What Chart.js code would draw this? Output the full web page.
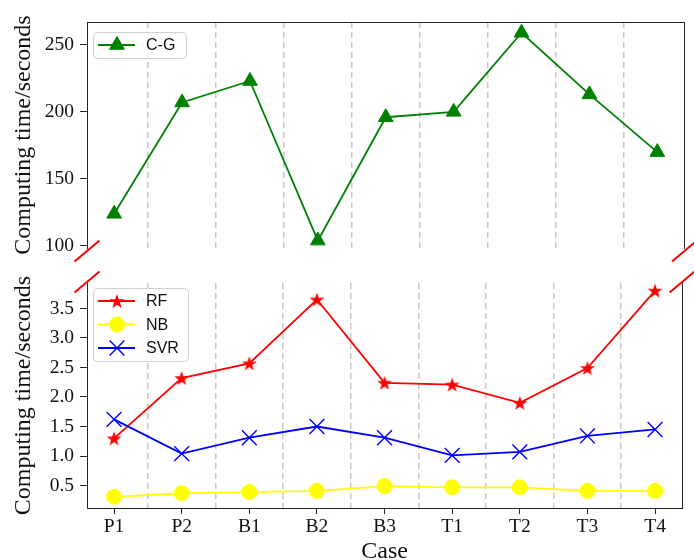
<!DOCTYPE html>
<html>
<head>
<meta charset="utf-8">
<script src="https://cdn.jsdelivr.net/npm/chart.js"></script>
<style>
	body { margin: 0; background: #fff; }
	#wrap { position: relative; width: 694px; height: 560px; }
	#wrap canvas { position: absolute; left: 0; top: 0; }
</style>
</head>
<body>
<div id="wrap">
	<canvas id="topChart" width="694" height="560"></canvas>
	<canvas id="bottomChart" width="694" height="560"></canvas>
</div>

<script>
	// --- data ---
	var cases = ['P1', 'P2', 'B1', 'B2', 'B3', 'T1', 'T2', 'T3', 'T4'];
	var cgTime = [124, 207, 223, 104, 196, 200, 259, 213, 170];
	var rfTime = [1.30, 2.32, 2.57, 3.65, 2.24, 2.21, 1.90, 2.49, 3.80];
	var nbTime = [0.31, 0.37, 0.39, 0.41, 0.49, 0.47, 0.47, 0.41, 0.41];
	var svrTime = [1.62, 1.04, 1.31, 1.50, 1.31, 1.01, 1.07, 1.34, 1.45];
	var topTicks = [100, 150, 200, 250];
	var bottomTicks = [0.5, 1.0, 1.5, 2.0, 2.5, 3.0, 3.5];
	var dividers = [0.5, 1.5, 2.5, 3.5, 4.5, 5.5, 6.5, 7.5];

	var serif = "'Liberation Serif', 'Times New Roman', serif";
	var spineColor = '#262626';

	function points(values) {
		return values.map(function (v, i) { return { x: i, y: v }; });
	}

	// filled five point star, used as a point image
	function starImage(color, r) {
		var s = Math.ceil(r * 2 + 2);
		var c = document.createElement('canvas');
		c.width = s; c.height = s;
		var g = c.getContext('2d');
		g.fillStyle = color;
		g.beginPath();
		for (var i = 0; i < 10; i++) {
			var rad = i % 2 === 0 ? r : r * 0.4;
			var a = -Math.PI / 2 + i * Math.PI / 5;
			var px = s / 2 + rad * Math.cos(a);
			var py = s / 2 + rad * Math.sin(a) + 0.7;
			if (i === 0) g.moveTo(px, py); else g.lineTo(px, py);
		}
		g.closePath();
		g.fill();
		return c;
	}

	// dashed vertical separators between cases
	function dividerAxis(position) {
		return {
			type: 'linear', position: position, min: -0.4, max: 8.4,
			afterBuildTicks: function (scale) {
				scale.ticks = dividers.map(function (v) { return { value: v }; });
			},
			grid: { color: '#c8c8c8', lineWidth: 1.5, drawTicks: false },
			border: { display: false, dash: [6, 4] },
			ticks: { display: false },
			afterFit: function (scale) { scale.height = 0; }
		};
	}

	// plain frame line (top or right spine)
	function spineAxis(position, size) {
		return {
			type: 'linear', position: position, min: 0, max: 1,
			grid: { drawOnChartArea: false, drawTicks: false },
			border: { display: true, color: spineColor, width: 1 },
			ticks: { display: false },
			afterFit: function (scale) {
				if (position === 'top' || position === 'bottom') scale.height = size;
				else scale.width = size;
			}
		};
	}

	function valueAxis(min, max, tickList) {
		return {
			type: 'linear', position: 'left', min: min, max: max,
			afterBuildTicks: function (scale) {
				scale.ticks = tickList.map(function (v) { return { value: v }; });
			},
			afterFit: function (scale) { scale.width = 87; },
			grid: { drawOnChartArea: false, tickLength: 7, tickColor: spineColor, tickWidth: 1 },
			border: { display: true, color: spineColor, width: 1 },
			ticks: {
				color: '#111', padding: 6,
				font: { family: serif, size: 19.5 },
				callback: function (value) { return max < 10 ? value.toFixed(1) : value; }
			},
			title: {
				display: true, text: 'Computing time/seconds', color: '#111',
				font: { family: serif, size: 24, lineHeight: '24px' },
				padding: { top: 12, bottom: 0 }
			}
		};
	}

	// legend box drawn inside the plot area
	var boxLegend = {
		id: 'boxLegend',
		afterDatasetsDraw: function (chart, args, opts) {
			var ctx = chart.ctx;
			var area = chart.chartArea;
			var sets = chart.data.datasets.slice().sort(function (a, b) { return a.legendRank - b.legendRank; });
			var left = area.left + 6;
			var top = area.top + opts.top;
			var rowH = 23.5;
			var w = opts.width;
			var h = 26 + (sets.length - 1) * rowH;
			ctx.save();
			ctx.beginPath();
			ctx.roundRect(left + 0.5, top + 0.5, w, h, 4);
			ctx.fillStyle = 'rgba(255,255,255,0.8)';
			ctx.fill();
			ctx.strokeStyle = '#d0d0d0';
			ctx.lineWidth = 1;
			ctx.stroke();
			sets.forEach(function (ds, i) {
				var cy = top + 13 + i * rowH;
				ctx.beginPath();
				ctx.strokeStyle = ds.borderColor;
				ctx.lineWidth = ds.borderWidth;
				ctx.moveTo(left + 5, cy);
				ctx.lineTo(left + 42, cy);
				ctx.stroke();
				ctx.fillStyle = ds.pointBackgroundColor;
				ctx.strokeStyle = ds.pointBorderColor;
				ctx.lineWidth = ds.pointBorderWidth;
				Chart.helpers.drawPoint(ctx, {
					pointStyle: ds.pointStyle, rotation: 0,
					radius: ds.pointRadius, borderWidth: ds.pointBorderWidth
				}, left + 24, cy);
				ctx.fillStyle = '#111';
				ctx.font = "16px 'Liberation Sans', Arial, sans-serif";
				ctx.textAlign = 'left';
				ctx.textBaseline = 'middle';
				ctx.fillText(ds.label, left + 53, cy + 1);
			});
			ctx.restore();
		}
	};

	// red diagonal marks at the axis break
	var breakMarks = {
		id: 'breakMarks',
		afterDraw: function (chart, args, opts) {
			var ctx = chart.ctx;
			var area = chart.chartArea;
			var cy = opts.side === 'bottom' ? area.bottom + 3 : area.top - 1;
			ctx.save();
			ctx.strokeStyle = '#ff0000';
			ctx.lineWidth = 2;
			[area.left, area.right].forEach(function (cx) {
				ctx.beginPath();
				ctx.moveTo(cx - 12.5, cy + 10.5);
				ctx.lineTo(cx + 12.5, cy - 10.5);
				ctx.stroke();
			});
			ctx.restore();
		}
	};

	// --------------------
	// --- upper panel ---
	// --------------------
	new Chart(document.getElementById('topChart'), {
		type: 'line',
		data: {
			datasets: [ {
				label: 'C-G',
				legendRank: 0,
				data: points(cgTime),
				borderColor: '#008000',
				backgroundColor: '#008000',
				borderWidth: 1.8,
				pointStyle: 'triangle',
				pointRadius: 8.5,
				pointBackgroundColor: '#008000',
				pointBorderColor: '#008000',
				pointBorderWidth: 1,
				tension: 0,
				clip: false
			} ]
		},
		options: {
			responsive: false,
			animation: false,
			devicePixelRatio: 1,
			layout: { padding: { top: 0, left: 0, right: 0, bottom: 312 } },
			plugins: {
				legend: { display: false },
				tooltip: { enabled: false },
				boxLegend: { top: 10, width: 93 },
				breakMarks: { side: 'bottom' }
			},
			scales: {
				x: dividerAxis('bottom'),
				xt: spineAxis('top', 22),
				y: valueAxis(98.5, 267, topTicks),
				yr: spineAxis('right', 5)
			}
		},
		plugins: [ boxLegend, breakMarks ]
	});

	// --------------------
	// --- lower panel ---
	// --------------------
	new Chart(document.getElementById('bottomChart'), {
		type: 'line',
		data: {
			datasets: [ {
				label: 'RF',
				legendRank: 0,
				order: 2,
				data: points(rfTime),
				borderColor: '#ff0000',
				backgroundColor: '#ff0000',
				borderWidth: 1.8,
				pointStyle: starImage('#ff0000', 7.8),
				pointRadius: 7.8,
				pointBackgroundColor: '#ff0000',
				pointBorderColor: '#ff0000',
				pointBorderWidth: 1,
				tension: 0,
				clip: false
			}, {
				label: 'NB',
				legendRank: 1,
				order: 1,
				data: points(nbTime),
				borderColor: '#ffff00',
				backgroundColor: '#ffff00',
				borderWidth: 1.8,
				pointStyle: 'circle',
				pointRadius: 7.5,
				pointBackgroundColor: '#ffff00',
				pointBorderColor: '#ffff00',
				pointBorderWidth: 1,
				tension: 0,
				clip: false
			}, {
				label: 'SVR',
				legendRank: 2,
				order: 0,
				data: points(svrTime),
				borderColor: '#0000ff',
				backgroundColor: '#0000ff',
				borderWidth: 1.8,
				pointStyle: 'crossRot',
				pointRadius: 10.5,
				pointBackgroundColor: '#0000ff',
				pointBorderColor: '#0000ff',
				pointBorderWidth: 1.4,
				tension: 0,
				clip: false
			} ]
		},
		options: {
			responsive: false,
			animation: false,
			devicePixelRatio: 1,
			layout: { padding: { top: 283, left: 0, right: 0, bottom: 0 } },
			plugins: {
				legend: { display: false },
				tooltip: { enabled: false },
				boxLegend: { top: 5, width: 95 },
				breakMarks: { side: 'top' }
			},
			scales: {
				x: {
					type: 'linear', position: 'bottom', min: -0.4, max: 8.4,
					afterBuildTicks: function (scale) {
						scale.ticks = cases.map(function (c, i) { return { value: i }; });
					},
					afterFit: function (scale) { scale.height = 52; },
					grid: { drawOnChartArea: false, tickLength: 6, tickColor: spineColor, tickWidth: 1 },
					border: { display: true, color: spineColor, width: 1 },
					ticks: {
						color: '#111', padding: 1, maxRotation: 0, autoSkip: false,
						font: { family: serif, size: 19.5 },
						callback: function (value) { return cases[value]; }
					},
					title: {
						display: true, text: 'Case', color: '#111',
						font: { family: serif, size: 24, lineHeight: '16px' },
						padding: { top: 0, bottom: 0 }
					}
				},
				xg: dividerAxis('top'),
				y: valueAxis(0.12, 3.93, bottomTicks),
				yr: spineAxis('right', 5)
			}
		},
		plugins: [ boxLegend, breakMarks ]
	});
</script>
</body>
</html>
